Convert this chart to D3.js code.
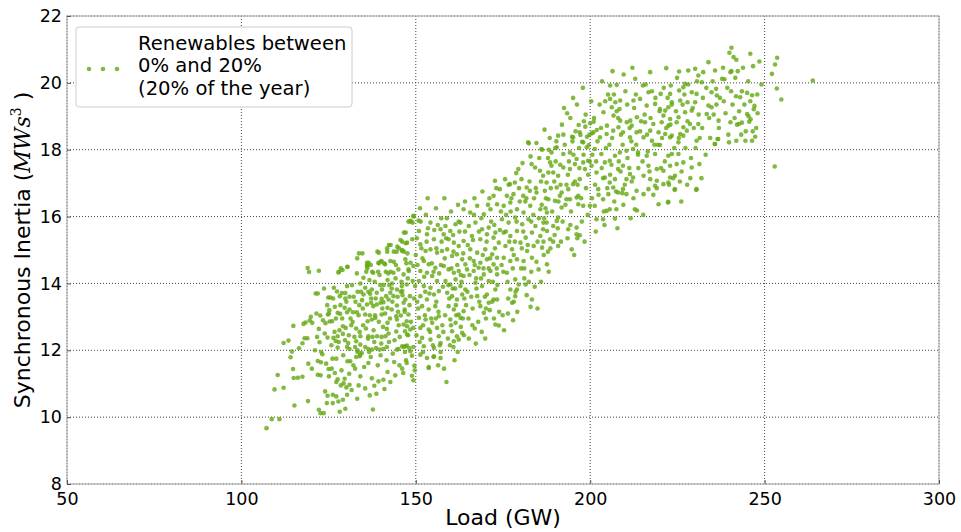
<!DOCTYPE html>
<html>
<head>
<meta charset="utf-8">
<script src="https://cdn.jsdelivr.net/npm/d3@7/dist/d3.min.js"></script>
<style>
  html, body { margin: 0; padding: 0; background: #fff; }
  svg { display: block; font-family: "DejaVu Sans", sans-serif; }
</style>
</head>
<body>
<svg id="chart" width="961" height="532"></svg>
<script>
// ---- data: [load (GW), synchronous inertia (MWs^3)] ----
const xTicks = [50, 100, 150, 200, 250, 300];
const yTicks = [8, 10, 12, 14, 16, 18, 20, 22];
const legendLines = ["Renewables between", "0% and 20%", "(20% of the year)"];

const cloudLow = [
[107.2,9.67],[108.7,9.94],[110.9,9.94],[109.5,10.83],[112.1,10.88],[110.4,11.26],[115.2,10.35],[114.8,11.44],[115,11.17],[116.2,11.18],[117.5,11.21],[114.1,11.79],[114.5,11.96],[112.1,12.22],[113.5,12.29],[114.9,12.73],[116.5,12.06],[117.5,12.21],[118.1,12.36],[118.9,12.36],[117.8,12.79],[118.4,12.83],[119.6,12.89],[120.3,12.82],[119.2,11.6],[119.1,10.48],[122.2,10.22],[122.7,10.12],[123.6,10.12],[121.7,12.4],[122.4,12.24],[122.2,12.64],[121.9,11.68],[122.8,11.64],[121.9,11.27],[122.7,11.25],[121.3,13.7],[121.9,13.7],[119,14.46],[119.4,14.34],[122.2,14.38],[122.6,13.04],[124.8,13.07],[123.2,11.88],[124,10.77],[124.5,10.42],[124.7,10.64],[125,11.44],[125.1,11.22],[126.2,10.42],[124.7,12.38],[126.4,12.37],[127,12.28],[125.3,12.86],[126,12.87],[124.1,12.81],[125.2,13.2],[125.1,13.1],[124.9,13.58],[125.5,13.58],[126.5,13.87],[127.8,14.33],[128.5,14.45],[130.4,14.49],[126.8,13.3],[127.6,13.12],[128.3,13.09],[126.8,11.32],[127.2,11.05],[127.6,11.13],[127.2,11.75],[127.6,12.42],[127.6,12.08],[126.2,10.67],[127.2,10.62],[127.8,10.47],[128.2,10.16],[128.5,10.95],[129.3,11.01],[130.1,10.89],[131,10.97],[129.1,10.52],[130.3,10.67],[131.6,10.81],[129.1,12.72],[129.9,12.67],[129.1,12.49],[130.6,12.22],[130.3,12.1],[131,12.04],[130.4,11.67],[131.2,11.67],[128.8,13.71],[129.8,13.71],[129.8,13.55],[128.2,13.62],[131,13.6],[129.6,13.27],[130.3,13.14],[131,13.22],[132,13.14],[133.1,13.14],[127.4,13.76],[130.3,13.92],[132.2,13.6],[133.3,13.75],[134.1,14],[133.1,14.3],[135,14.17],[136,14.54],[136.5,14.62],[132.9,12.65],[134.1,12.42],[132.9,12.27],[132.6,12.1],[133.3,12],[133.9,11.82],[134.5,11.92],[134.1,11.22],[135.5,10.86],[137.4,11.16],[137.7,10.23],[138.1,10.94],[136,13.37],[137.2,13.42],[135.5,13.07],[136.2,12.87],[137.4,12.92],[138.4,12.97],[135,13.67],[136.4,13.75],[136.9,13.69],[138.8,13.72],[140.3,13.82],[137.8,13.32],[138.8,13.37],[139.9,13.42],[140.7,13.44],[141.9,13.27],[143.1,13.22],[144.6,13.34],[146.5,13.42],[136.4,12.42],[137.6,12.4],[138.9,12.42],[140.2,12.4],[141.3,12.42],[142.2,12.5],[141.7,12.64],[144.4,12.56],[141.9,12.82],[140.2,13.07],[134.1,12.17],[135.5,12.1],[136.4,12.04],[137.4,12.02],[138.6,12.07],[139.6,12.02],[140.7,12.04],[141.7,12.1],[133.3,11.95],[134.1,11.87],[132.9,11.8],[136.4,11.62],[140.7,11.12],[141,10.84],[139.3,11.07],[144.6,12.02],[145,12.04],[146.5,12.1],[147.4,12.14],[148.4,11.97],[149.3,12.1],[148.9,11.84],[148.9,11.24],[149.6,11.54],[144.6,12.92],[145.7,13.04],[144.4,13.02],[146.5,12.77],[147.4,12.87],[148.4,12.62],[149.3,12.67],[142.7,13.72],[144.6,13.82],[146,13.92],[147.4,13.97],[149.1,14.07],[149.8,13.92],[143.6,14.32],[145,14.42],[146.5,14.27],[147.9,14.42],[149.3,14.52],[141.2,14.57],[142.7,14.67],[137.8,14.32],[139.3,14.62],[136,14.62],[140.2,14.67],[135.5,13.87],[137.4,13.82],[141.5,13.62],[142.2,13.52],[143.6,13.62],[140.2,13.54],
[133.2,14.75],[134.7,14.9],[136.1,14.52],[139,14.95],[139.4,14.6],[140.9,14.6],[142.3,15.15],[143.7,14.65],[144.5,14.95],[146.1,15.25],[146.6,14.95],[147.1,15.52],[148.5,15.85],[149.3,16.02],[151.4,15.85],[141.8,14.95],[145.2,15.05],[142.8,14.35],
[149.4,16],[150.8,15.88],[147.9,15.85],[149.1,15.82],[145.6,15.3],[147.1,15.2],[149,15.32],[146.1,15],[147.6,14.9],[150,14.85],[142.8,15.15],[141.8,15.05],[143.7,14.95],[144.7,15.1],[139.4,14.92],[139.9,14.65],[133.7,14.9],[137.1,14.55],[136.1,14.45],[137.5,14.35],[130.4,14.5],[128,14.35],[129,14.4],
[158.8,11.05],[149.7,11.4],[149.3,11.1],[153.7,11.5],[155.1,11.8],[160.8,12.1],[162,11.95]
];

const cloudMid = [
[146.6,15.52],[147.5,15.22],[146.1,14.97],[147,14.72],[148.5,14.62],[148,14.37],[146.1,13.77],[147,13.52],[148.3,13.62],[146.8,13.22],[147.9,13.07],[147.5,12.72],[146.9,12.57],[147.5,12.47],[147,12.12],[146.1,12.12],[148.1,12.07],[147.4,11.62],[146.4,11.32],[148.5,15.87],
[150.9,15.57],[153.2,15.47],[154.2,15.82],[155.2,15.32],[151.3,15.17],[152.8,14.97],[154.2,15.02],[156.1,14.92],[152.3,14.67],[153.7,14.57],[155.6,14.47],[151.3,14.37],[153.2,14.32],[154.7,14.22],[150.9,14.07],[152.3,13.92],[154.2,13.87],[156.1,14.07],[151.3,13.62],[153.2,13.52],[155.2,13.67],[156.6,13.77],[151.8,13.32],[153.7,13.22],[155.6,13.32],[150.9,12.97],[152.8,12.92],[154.7,12.82],[156.6,13.02],[151.3,12.67],[153.7,12.62],[156.1,12.67],[151.8,12.37],[154.2,12.32],[156.6,12.42],[152.3,12.12],[155.2,12.07],[157.1,12.22],[151.3,11.87],[153.2,11.77],[155.2,11.82],[157.1,11.77],[153.7,11.47],
[157.1,15.62],[158.5,15.72],[159.9,15.57],[161.4,15.77],[162.8,15.82],[163.7,16.22],[158,15.47],[159.4,15.32],[160.9,15.22],[162.3,15.12],[163.7,15.27],[157.5,14.97],[159,15.02],[160.4,14.82],[161.8,14.87],[163.3,14.72],[164.2,14.57],[158,14.52],[159.4,14.42],[160.9,14.32],[162.3,14.37],[163.7,14.22],[164.7,14.42],[158.5,14.07],[159.9,13.97],[161.4,14.12],[162.8,13.92],[164.2,13.82],[159,13.72],[160.4,13.62],[161.8,13.52],[163.3,13.67],[159.4,13.32],[160.9,13.22],[162.3,13.07],[163.7,13.17],[159.9,12.92],[161.4,12.82],[162.8,12.97],[160.4,12.57],[161.8,12.42],[163.3,12.52],[160.9,12.27],[162.3,12.32],
[165.6,16.12],[167.6,16.32],[169.5,16.07],[171.4,16.22],[173.3,16.37],[165.2,15.72],[167.1,15.82],[169,15.62],[170.9,15.67],[172.8,15.52],[166.1,15.42],[168.5,15.32],[170.4,15.47],[172.3,15.37],[173.8,15.22],[165.6,15.02],[167.6,14.92],[169.9,15.02],[171.9,14.87],[173.3,14.77],[166.6,14.67],[168.5,14.62],[170.4,14.72],[172.3,14.57],[166.6,14.37],[168,14.47],[169.5,14.27],[171.4,14.37],[173.3,14.27],[167.1,14.02],[169,13.92],[170.9,14.07],[172.8,13.82],[167.6,13.62],[170.4,13.67],[172.3,13.52],[168.5,13.32],[170.9,13.42],[173.3,13.52],[169.5,13.12],[172.8,12.77],[173.8,12.74],
[175.2,16.32],[177.1,16.42],[179,16.22],[180.9,16.12],[182.8,16.32],[185.7,16.22],[187.6,16.12],[174.7,15.92],[176.6,15.82],[178.5,15.97],[180.5,15.77],[182.3,15.92],[184.3,15.72],[186.6,15.82],[175.2,15.52],[177.1,15.42],[179,15.57],[181.5,15.37],[183.3,15.52],[185.7,15.42],[187.6,15.57],[175.7,15.12],[177.6,15.02],[180,15.22],[181.9,14.97],[183.8,15.12],[186.2,15.07],[175.2,14.77],[177.1,14.67],[179,14.72],[180.9,14.67],[183.3,14.77],[185.2,14.42],[187.6,14.57],[176.1,14.32],[178.5,14.12],[179.5,13.97],[181.5,13.97],[177.1,13.82],[178.5,13.62],[177.6,13.42],[183.3,13.52],[179,13.82]
];

const cloudUpper = [
[172.7,17.07],[174.1,16.82],[175.6,17.12],[177,16.97],[178.4,17.02],[179.4,17.42],[180.3,17.12],[181.8,16.87],[183.2,17.57],[184.2,17.47],[185.6,17.37],[186.5,17.22],[188,17.32],[182.7,16.77],[184.6,16.72],[187,16.77],[188.5,17.62],[188.9,17.52],[187.5,17.02],[186,18.02],[182.2,18.22],[180.8,16.62],[178,16.67],[176.1,16.62],[172.3,16.62],[188,16.52],
[190.8,18.42],[195.1,18.37],[197,18.52],[198,18.22],[199,18.07],[188.9,17.92],[190.4,18.07],[192.3,17.87],[194.2,17.92],[196.1,17.72],[198,17.62],[199.4,17.67],[189.4,17.32],[190.8,17.22],[192.3,17.47],[194.2,17.42],[195.6,17.57],[197,17.12],[198.5,17.42],[190.4,16.87],[191.8,16.72],[193.7,16.82],[195.1,16.97],[196.6,16.62],[198,16.32],[199.9,16.32],[189.9,16.47],[191.3,16.62],[193.2,16.52],[191.8,16.27],[194.2,16.52],[196.1,16.57],[196.6,16.37],[190.8,15.97],[190.4,15.87],[193.7,15.62],[196.1,15.67],[196.1,15.47],[197,15.44],[194.7,15.02],[190.8,15.12],[188.5,15.32],[189.4,15.72],[186.5,15.62],[187.5,15.82],
[200.9,18.52],[202.8,18.37],[204.7,18.47],[206.6,18.57],[209.4,18.52],[211.4,18.37],[213.3,18.52],[201.3,18.02],[203.2,17.87],[204.2,17.62],[205.6,17.67],[207.1,17.82],[208.5,17.92],[210.4,17.97],[212.3,18.02],[213.7,17.92],[200.4,17.52],[201.8,17.32],[204.2,17.17],[205.6,17.02],[207.1,17.12],[208,17.42],[209.4,17.52],[211.4,17.27],[212.3,17.17],[210.4,17.12],[202.3,16.82],[203.7,16.52],[205.2,16.67],[206.6,16.87],[208,16.72],[209.4,16.82],[210.4,16.67],[213.3,16.77],[201.3,16.32],[204.7,16.17],[205.6,16.22],[207.5,16.22],[212.8,16.22],[201.8,15.92],[203.7,15.92],[207.1,15.94],
[193.4,19.09],[196.7,18.74],[198.6,18.69],[200,18.79],[201,18.84],[197.2,18.44],[199.1,18.39],[200.5,18.49],[201.9,18.59],[182.4,18.19],[186.2,18],[188.1,18],[190,18.05],[194.8,18.39],[197.7,18.24],[199.6,18.14]
];

const cloudTop = [
[212.9,20.12],[205.7,19.92],[207.6,19.94],[205.7,19.52],[207.2,19.42],[208.6,19.47],[203.8,19.12],[206.2,19.27],[208.4,19.22],[206.7,19.02],[208.6,18.87],[210.5,18.82],[211.5,18.87],[212.4,19.47],[214.3,19.52],[213.4,18.97],[204.8,18.72],[208.1,18.67],[211.9,18.72],
[217.2,20.32],[221.8,20.44],[225.5,20.34],[228.1,20.37],[230.1,20.42],[231,20.22],[232.4,20.32],[233.9,20.62],[235.8,20.37],[215.1,19.92],[216.7,19.72],[220.2,19.67],[223.1,19.92],[222.9,19.67],[225.5,19.77],[226.7,19.87],[227.2,19.97],[229.1,19.72],[230.5,19.67],[232,20.02],[234.8,19.72],[236.1,19.82],[236.3,19.62],[216.2,19.32],[218.6,19.37],[220,19.22],[221.5,19.17],[222.4,19.27],[223.4,19.42],[225.8,19.47],[227.9,19.42],[230.1,19.42],[233.9,19.32],[234.8,19.27],[221,19.02],[222.9,18.92],[225.3,18.97],[227.2,19.12],[229.1,19.17],[233.4,19.07],[215.7,18.82],[218.1,18.77],[220.5,18.82],[222.4,18.72],[224.8,18.82],[226.7,18.67],[228.6,18.77],[231,18.77],[217.2,18.57],[219.6,18.52],[221.5,18.47],[223.4,18.42],[225.8,18.47],[227.7,18.57],[215.3,18.37],[217.7,18.27],[220,18.14],[222.9,18.37],[225.3,18.22],[226.7,18.42],[230.5,18.27],[235.8,18.17],[236.7,18.32],[216.2,17.82],[218.6,17.87],[222.4,17.82],[223.4,17.87],[225.3,17.87],[216.7,17.52],[219.1,17.42],[221,17.37],[222.9,17.52],[224.8,17.57],[226.7,17.62],[229.1,17.47],[231.3,17.57],[215.3,17.22],[217.2,17.12],[219.1,17.07],[221,16.97],[222.9,17.17],[224.3,17.22],[218.6,16.92],[216.7,16.82],[222.4,17.02],[224.3,16.82],[230.5,16.82],[219.6,16.37],[222.4,16.44],[215.3,16.67],
[240.5,21.05],[239.9,20.9],[241.1,20.77],[241.9,20.69],[245.9,20.87],[248.5,20.64],[246.7,20.5],[240.5,20.35],[240.2,20.32],[238.5,20.11],[243.5,19.75],[245,19.7],[246.4,19.63],[241.8,19.6],[243,19.57],[247.1,19.31],[246.9,19.21],[248,19.09],[245,19.07],[245.4,19],[238.8,19.09],[246,18.91],[245.6,18.84],[243.5,18.81],[242.6,18.77],[242.1,18.75],[240.2,18.82],[247.3,18.39],[246.4,18.27],[244.5,18.27],[241.9,18.27],[239.8,18.22],[236.5,18.32],[235.7,18.17],[253.6,20.75],[253,20.55],[252.1,20.27],[253.5,19.83],[254.8,19.5],[263.8,20.07],[252.9,17.5],[236.8,18.87],[237.8,20.12],
[230.4,16.8],[224.2,16.8],[222.3,16.42],[213.4,16.18],[209.2,16.7]
];

// extra points read from the densest parts of the cloud
const cloudDense = [
[121.5,13.1],[123.4,12.9],[124.6,13.35],[126.7,12.55],[128.9,12.95],[130.8,12.45],[131.9,12.85],[132.7,13.45],[133.9,12.55],[134.8,13.25],[135.7,12.65],[136.8,13.05],[137.9,12.6],[138.5,13.55],[139.4,12.85],[139.8,13.95],[140.6,12.7],[141.2,13.1],[141.9,14.1],[142.6,12.95],[143.3,13.45],[143.9,12.3],[144.8,13.6],[145.4,12.4],[145.9,14.05],[146.8,13.15],[147.8,12.45],[148.2,13.35],[138.2,14.05],[139.6,14.25],[140.8,13.95],[142.1,14.3],[143.2,14.0],[144.2,14.15],[145.7,13.75],[136.7,14.1],[134.6,13.5],[133.6,13.05],[132.4,12.4],[131.5,12.75],[129.7,12.3],[128.1,12.6],[127.1,12.95],[125.8,12.15],[123.9,12.5],[122.9,11.95],[121.1,12.0],[120.2,11.45],[119.9,13.0],[124.3,11.6],[126.1,11.75],[128.7,11.4],[130.9,11.3],[132.6,11.45],[135.2,11.5],[137.1,11.8],[139.1,11.55],[141.6,11.7],[143.4,11.9],[145.3,11.55],[147.2,11.7],[144.1,11.25],[142.7,11.05],[138.7,10.7],[133.2,10.55],[129.8,10.25],
[150.5,14.55],[151.6,15.05],[152.4,14.2],[153.1,15.25],[153.9,13.7],[154.6,14.6],[155.3,15.6],[155.9,13.45],[156.7,14.3],[157.4,15.25],[157.8,13.9],[158.3,14.75],[158.9,15.95],[159.6,13.55],[160.2,14.45],[160.7,15.45],[161.3,13.85],[161.9,14.55],[162.5,15.55],[163.1,14.05],[163.6,14.9],[164.4,13.35],[164.9,15.15],[165.4,14.25],[165.9,13.6],[166.4,15.3],[166.9,14.55],[167.4,13.85],[168.1,15.55],[168.7,14.15],[169.2,14.85],[169.8,13.6],[170.3,15.25],[170.9,14.45],[171.6,15.85],[172.1,14.05],[172.7,15.05],[173.4,13.95],[174.1,15.6],[174.6,14.55],[154.1,12.55],[155.7,12.95],[156.9,12.15],[157.6,12.75],[158.4,13.05],[159.2,12.35],[160.6,13.85],[161.5,13.35],[162.9,12.7],[163.9,13.55],[165.1,12.95],[166.3,13.25],[167.9,12.85],[168.9,12.55],[170.1,12.95],[171.2,13.2],[152.6,13.05],[151.1,12.25],[150.4,13.45],[152.1,11.95],[156.4,11.55],[158.1,11.45],[161.1,11.7],[165.2,12.35],[167.2,12.2],[175.3,12.6],[176.4,13.1],[177.9,12.9],[152.9,16.05],[155.8,16.25],[157.3,15.95],[160.1,16.15],[162.1,16.35],[164.1,16.45],[166.8,16.55],[169.1,16.75],[171.1,16.55],[173.1,16.85],[158.2,16.55],
[175.9,16.05],[176.8,15.25],[177.4,16.55],[178.1,14.85],[178.9,15.85],[179.6,16.85],[180.2,14.45],[180.8,15.55],[181.4,16.45],[182.1,15.15],[182.6,17.05],[183.1,14.35],[183.7,16.05],[184.4,16.85],[184.9,15.25],[185.4,17.75],[186.1,16.35],[186.7,14.85],[187.3,16.55],[187.9,17.75],[188.6,15.05],[189.1,16.15],[189.7,17.05],[190.3,18.25],[190.9,16.45],[191.4,17.55],[192.1,15.85],[192.7,18.15],[193.2,16.95],[193.9,17.65],[194.5,16.15],[195.2,17.85],[195.8,18.55],[196.4,16.95],[196.9,17.45],[197.6,15.85],[198.2,18.85],[198.8,16.85],[199.4,17.25],[199.8,18.45],[176.3,14.05],[178.6,13.75],[181.1,14.15],[184.1,13.9],[185.9,14.05],[182.9,13.3],[188.1,14.35],[186.8,15.95],[189.8,15.45],[191.6,15.25],[193.5,15.35],[195.4,14.85],[188.4,18.35],[191.9,18.75],[194.3,18.95],[196.2,19.35],[186.9,18.6],[184.6,18.2],[182.9,17.8],[180.6,17.6],[178.8,17.3],[176.6,16.95],
[200.6,17.85],[201.4,16.95],[202.1,18.25],[202.7,19.35],[203.3,17.45],[203.9,16.15],[204.5,18.05],[205.1,19.65],[205.7,17.25],[206.3,18.35],[206.9,16.45],[207.6,19.15],[208.2,17.65],[208.8,18.45],[209.5,16.35],[210.1,19.75],[210.7,17.75],[211.3,18.65],[211.9,17.05],[212.6,19.25],[213.2,18.15],[213.8,17.45],[214.6,18.85],[215.2,16.05],[215.9,19.95],[216.5,17.95],[217.3,18.95],[218.1,16.65],[218.7,19.55],[219.4,18.15],[220.3,17.45],[221.1,19.85],[221.8,18.65],[222.6,16.95],[223.4,19.35],[224.1,18.05],[224.9,20.15],[225.7,17.05],[226.5,19.35],[227.3,18.05],[228.1,19.95],[228.9,17.75],[229.7,18.65],[230.6,20.05],[231.4,18.35],[232.3,19.55],[233.1,17.85],[234.1,18.95],[235.1,20.05],[236.2,19.35],[226.1,16.45],[227.8,16.95],[231.9,17.15],
[237.2,19.55],[238.1,20.45],[239.3,19.85],[240.8,19.35],[241.6,20.15],[242.7,19.15],[243.8,20.45],[244.6,18.55],[245.9,19.45],[247.6,18.65],[249.1,19.95]
];

const cloudBody = [
[128.4,13.35],[129.2,11.85],[131.7,13.95],[132.1,11.55],[133.8,13.35],[134.9,12.75],[135.8,14.35],[136.6,11.95],[137.2,13.55],[138.1,12.25],[139.2,14.35],[139.9,11.85],[140.4,13.25],[141.4,14.35],[142.3,12.25],[143.1,13.85],[143.8,11.65],[144.3,14.55],[145.1,12.75],[146.2,13.65],[146.9,11.95],[147.7,14.15],[148.6,12.85],[149.5,13.55],[134.3,13.75],[136.3,12.35],[138.3,13.05],[140.1,12.2],[142.4,13.95],[144.9,13.15],[147.3,14.6],[131.3,12.95],[130.1,13.45],[127.9,12.25],[126.3,13.55],[123.7,13.85],[125.9,11.45],[129.6,11.15],[133.6,10.95],[136.8,10.65],[141.9,11.35],[146.1,11.45],[150.2,12.45],
[150.7,13.25],[151.9,14.75],[152.7,13.75],[153.5,15.65],[154.4,12.95],[155.1,14.35],[155.9,15.05],[156.5,13.15],[157.2,14.55],[157.9,12.55],[158.7,15.35],[159.3,13.95],[160.1,12.75],[160.8,14.95],[161.6,13.05],[162.3,15.85],[162.9,14.25],[163.5,12.95],[164.1,15.55],[164.8,13.75],[165.5,14.75],[166.2,12.75],[166.7,16.05],[167.3,14.15],[168.2,13.45],[168.8,15.95],[169.4,14.45],[170.1,13.25],[170.7,16.35],[171.3,14.75],[171.9,13.45],[172.5,15.75],[173.2,14.45],[173.9,13.15],[174.4,16.15],[175.1,14.35],[175.8,15.55],[176.5,13.55],[177.2,16.15],[177.8,14.45],[178.4,15.25],[179.1,13.15],[179.8,16.45],[180.4,15.05],[181.1,14.45],[181.7,16.55],[182.4,14.05],[183.1,15.85],[183.9,16.55],[184.6,14.65],[185.3,15.95],[185.9,17.05],[186.6,15.25],[187.2,16.25],[187.9,14.95],[188.7,16.85],[189.4,15.25],[150.3,15.35],[151.2,16.25],[153.4,16.55],[156.3,15.75],[152.1,12.75],[154.9,12.15],[157.1,11.95],[159.8,12.15],[163.8,12.45],[166.9,12.65],[169.9,12.35],[172.4,12.95],[174.9,13.05],[178.1,13.45],[181.8,13.65],[184.9,13.25],
[190.1,17.65],[190.7,15.65],[191.5,16.95],[192.3,18.45],[192.9,16.35],[193.6,17.25],[194.3,15.75],[194.9,18.25],[195.6,17.05],[196.3,15.35],[196.8,18.05],[197.4,16.55],[198.1,17.85],[198.7,19.05],[199.3,16.05],[199.9,17.65],[200.5,16.55],[201.1,18.95],[201.7,17.65],[202.4,16.65],[203.1,18.65],[203.7,17.15],[204.3,19.45],[204.9,16.85],[205.5,18.15],[206.1,17.55],[206.8,19.65],[207.4,16.75],[208,18.95],[208.7,17.35],[209.3,18.15],[209.9,16.95],[210.6,19.35],[211.2,17.45],[211.8,18.25],[212.4,16.55],[213.1,19.65],[213.7,17.85],[214.3,18.55],[215,17.65],[215.6,19.05],[216.3,18.45],[217,17.35],[217.7,19.75],[218.4,18.15],[219.1,16.85],[219.9,19.15],[220.6,18.35],[221.4,17.65],[222.2,19.55],[223,18.75],[223.8,17.15],[224.6,19.15],[225.4,18.35],[226.2,17.35],[227,19.65],[227.9,18.85],[228.7,17.15],[229.4,19.25],[230.2,18.05],[231.1,19.05],[232.1,18.65],[233.3,19.85],[234.4,18.35],[235.4,19.05],[192.5,19.25],[195.1,19.55],[197.9,19.85],[200.3,19.45],[203.4,20.05],[206.4,20.35],[209.6,20.25],[212.1,20.45],[198.4,15.25],[201.6,15.55],[204.1,15.75],[207.8,15.65],[211.6,15.95],
[236.9,18.65],[238.3,19.45],[239.6,18.45],[240.4,19.75],[241.4,18.95],[242.3,20.35],[243.3,18.45],[244.2,19.35],[245.3,20.05],[246.6,18.55],[247.9,19.65]
];

const allPoints = cloudLow.concat(cloudMid, cloudUpper, cloudTop, cloudDense, cloudBody);

// ---- layout ----
const svg = d3.select("#chart");
const plot = { left: 67, right: 939, top: 16, bottom: 484 };
const x = d3.scaleLinear().domain([50, 300]).range([plot.left, plot.right]);
const y = d3.scaleLinear().domain([8, 22]).range([plot.bottom, plot.top]);

// grid
const grid = svg.append("g");
grid.selectAll("line.vx").data(xTicks).join("line")
  .attr("x1", d => x(d)).attr("x2", d => x(d))
  .attr("y1", plot.top).attr("y2", plot.bottom)
  .attr("stroke", "#444").attr("stroke-width", 1).attr("stroke-dasharray", "1,2");
grid.selectAll("line.hy").data(yTicks).join("line")
  .attr("y1", d => y(d)).attr("y2", d => y(d))
  .attr("x1", plot.left).attr("x2", plot.right)
  .attr("stroke", "#444").attr("stroke-width", 1).attr("stroke-dasharray", "1,2");

// points
svg.append("g").selectAll("circle").data(allPoints).join("circle")
  .attr("cx", d => x(d[0])).attr("cy", d => y(d[1]))
  .attr("r", 2.3)
  .attr("fill", "#67aa16")
  .attr("fill-opacity", 0.82);

// frame
svg.append("rect")
  .attr("x", plot.left).attr("y", plot.top)
  .attr("width", plot.right - plot.left).attr("height", plot.bottom - plot.top)
  .attr("fill", "none").attr("stroke", "#b0b0b0").attr("stroke-width", 1.2);

// axes (labels only, ticks inward)
const xAxis = d3.axisBottom(x).tickValues(xTicks).tickFormat(d3.format("d")).tickSizeInner(-4).tickSizeOuter(0).tickPadding(8);
const yAxis = d3.axisLeft(y).tickValues(yTicks).tickFormat(d3.format("d")).tickSizeInner(-4).tickSizeOuter(0).tickPadding(5);
const gx = svg.append("g").attr("transform", `translate(0,${plot.bottom})`).call(xAxis);
const gy = svg.append("g").attr("transform", `translate(${plot.left},0)`).call(yAxis);
[gx, gy].forEach(g => {
  g.select(".domain").remove();
  g.selectAll(".tick line").attr("stroke", "#555");
  g.selectAll(".tick text").attr("fill", "#000")
    .style("font-family", "DejaVu Sans").style("font-size", "17.5px");
});
gx.selectAll(".tick text").attr("dy", "0.75em");

// axis titles
svg.append("text")
  .attr("x", (plot.left + plot.right) / 2).attr("y", 525)
  .attr("text-anchor", "middle")
  .style("font-size", "22px").text("Load (GW)");

const yl = svg.append("text")
  .attr("transform", `translate(30,${(plot.top + plot.bottom) / 2}) rotate(-90)`)
  .attr("text-anchor", "middle")
  .style("font-size", "22px");
yl.append("tspan").text("Synchronous Inertia (");
yl.append("tspan").style("font-family", "DejaVu Serif").style("font-style", "italic").text("MWs");
yl.append("tspan").attr("dy", -9).style("font-size", "14px").style("font-family", "DejaVu Serif").text("3");
yl.append("tspan").attr("dy", 9).text(" )");

// legend
const lg = svg.append("g");
lg.append("rect")
  .attr("x", 76).attr("y", 27).attr("width", 276).attr("height", 80)
  .attr("rx", 3).attr("fill", "#fff").attr("stroke", "#cccccc").attr("stroke-width", 1);
lg.selectAll("circle").data([89, 103, 117]).join("circle")
  .attr("cx", d => d).attr("cy", 69).attr("r", 2.3)
  .attr("fill", "#67aa16").attr("fill-opacity", 0.82);
lg.selectAll("text").data(legendLines).join("text")
  .attr("x", 138).attr("y", (d, i) => 49.5 + i * 22.5)
  .style("font-size", "19.6px").text(d => d);
</script>
</body>
</html>
